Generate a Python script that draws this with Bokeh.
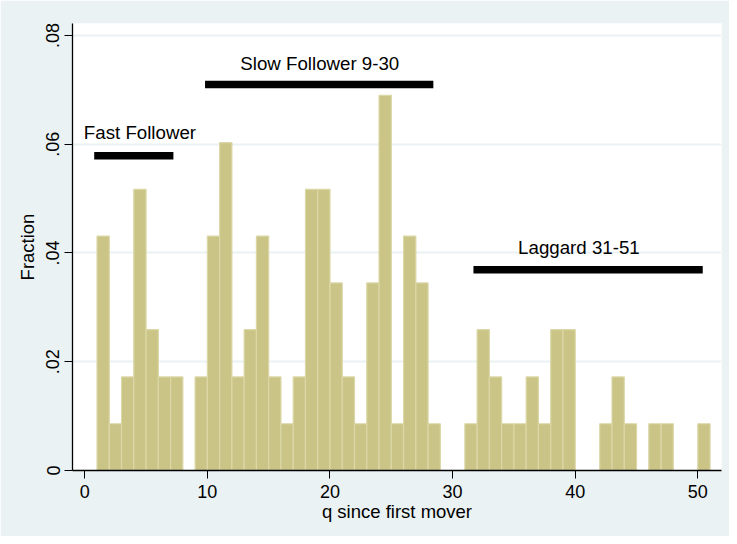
from bokeh.plotting import figure
from bokeh.models import Range1d, FixedTicker, ColumnDataSource
from bokeh.core.properties import value
from bokeh.embed import file_html
from bokeh.resources import INLINE

# Histogram bins (left edges, width 1) and fractions
bin_left = [1, 2, 3, 4, 5, 6, 7, 8, 9, 10,
            11, 12, 13, 14, 15, 16, 17, 18, 19, 20,
            21, 22, 23, 24, 25, 26, 27, 28, 29, 30,
            31, 32, 33, 34, 35, 36, 37, 38, 39, 40,
            41, 42, 43, 44, 45, 46, 47, 48, 49, 50]
bin_right = [2, 3, 4, 5, 6, 7, 8, 9, 10, 11,
             12, 13, 14, 15, 16, 17, 18, 19, 20, 21,
             22, 23, 24, 25, 26, 27, 28, 29, 30, 31,
             32, 33, 34, 35, 36, 37, 38, 39, 40, 41,
             42, 43, 44, 45, 46, 47, 48, 49, 50, 51]
fraction = [0.0431, 0.0086, 0.0172, 0.0517, 0.0259, 0.0172, 0.0172, 0.0, 0.0172, 0.0431,
            0.0603, 0.0172, 0.0259, 0.0431, 0.0172, 0.0086, 0.0172, 0.0517, 0.0517, 0.0345,
            0.0172, 0.0086, 0.0345, 0.0690, 0.0086, 0.0431, 0.0345, 0.0086, 0.0, 0.0,
            0.0086, 0.0259, 0.0172, 0.0086, 0.0086, 0.0172, 0.0086, 0.0259, 0.0259, 0.0,
            0.0, 0.0086, 0.0172, 0.0086, 0.0, 0.0086, 0.0086, 0.0, 0.0, 0.0086]

# Group annotation bars and labels
group_x0 = [0.77, 9.81, 31.7]
group_x1 = [7.23, 28.43, 50.4]
group_y = [0.0579, 0.0710, 0.0369]
label_text = ["Fast Follower", "Slow Follower 9-30", "Laggard 31-51"]
label_x = [4.5, 19.17, 40.3]
label_y = [0.0621, 0.0748, 0.0410]

x_ticks = [0, 10, 20, 30, 40, 50]
y_ticks = [0, 0.02, 0.04, 0.06, 0.08]
y_tick_labels = ["0", ".02", ".04", ".06", ".08"]

FONT = "Liberation Sans"
BG = "#EAF2F3"

p = figure(width=729, height=536, output_backend="svg", toolbar_location=None,
           x_range=Range1d(-1.0, 51.93), y_range=Range1d(0, 0.0822),
           min_border_left=72, min_border_right=8, min_border_top=23, min_border_bottom=66)
p.border_fill_color = BG
p.background_fill_color = "white"
p.outline_line_color = None

bars = ColumnDataSource(dict(left=bin_left, right=bin_right, top=fraction))
p.quad(left="left", right="right", bottom=0, top="top", source=bars,
       fill_color="#CBC487", line_color="#DBD7A7", line_width=1.2)

seg = ColumnDataSource(dict(x0=group_x0, x1=group_x1, y=group_y))
p.segment(x0="x0", y0="y", x1="x1", y1="y", source=seg,
          line_color="black", line_width=7.5, line_cap="butt")

lab = ColumnDataSource(dict(x=label_x, y=label_y, t=label_text))
p.text(x="x", y="y", text="t", source=lab, text_align="center", text_baseline="middle",
       text_font=value(FONT), text_font_size="18.7px", text_color="black")

# Axes
p.xaxis.ticker = FixedTicker(ticks=x_ticks)
p.yaxis.ticker = FixedTicker(ticks=y_ticks)
p.yaxis.major_label_overrides = {t: l for t, l in zip(y_ticks, y_tick_labels)}
p.yaxis.major_label_orientation = "vertical"
for ax in (p.xaxis, p.yaxis):
    ax.axis_line_color = "black"
    ax.axis_line_width = 1.3
    ax.major_tick_line_color = "black"
    ax.major_tick_out = 8
    ax.major_tick_in = 0
    ax.minor_tick_line_color = None
    ax.major_label_text_font = FONT
    ax.major_label_text_font_size = "18px"
    ax.major_label_text_color = "black"
    ax.axis_label_text_font = FONT
    ax.axis_label_text_font_size = "18.5px"
    ax.axis_label_text_font_style = "normal"
    ax.axis_label_text_color = "black"
p.xaxis.axis_label = "q since first mover"
p.yaxis.axis_label = "Fraction"
p.xaxis.major_label_standoff = 6
p.xaxis.axis_label_standoff = 0
p.yaxis.major_label_standoff = 5
p.yaxis.axis_label_standoff = 6

p.xgrid.grid_line_color = None
p.ygrid.grid_line_color = BG
p.ygrid.grid_line_width = 2

open("out.html", "w").write(file_html(p, INLINE))
